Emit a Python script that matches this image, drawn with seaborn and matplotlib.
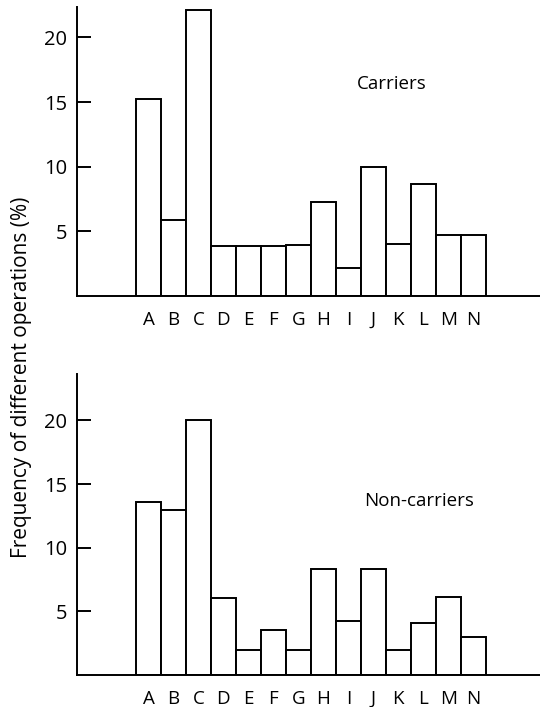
import matplotlib
matplotlib.use("Agg")
import matplotlib.pyplot as plt
import seaborn as sns
import pandas as pd

categories = ["A", "B", "C", "D", "E", "F", "G", "H", "I", "J", "K", "L", "M", "N"]
carriers = [15.25, 5.85, 22.1, 3.9, 3.85, 3.85, 3.95, 7.25, 2.2, 10.0, 4.0, 8.7, 4.75, 4.75]
non_carriers = [13.6, 13.0, 20.0, 6.05, 2.0, 3.5, 2.0, 8.35, 4.25, 8.35, 2.0, 4.05, 6.1, 2.95]
yticks = [5, 10, 15, 20]
panel_titles = ["Carriers", "Non-carriers"]
ylabel = "Frequency of different operations (%)"

sns.set_theme(style="white")
plt.rcParams["font.family"] = ["Open Sans", "DejaVu Sans"]

fig = plt.figure(figsize=(5.4, 7.07), dpi=100)
W, H = 540, 707
left_px = 77

def make_ax(bottom_px, top_px):
    return fig.add_axes([left_px / W, 1 - bottom_px / H, 1 - left_px / W, (bottom_px - top_px) / H])

ax1 = make_ax(296, 7)
ax2 = make_ax(675, 374)

panels = [
    (ax1, carriers, 22.35, (0.680, 0.733), panel_titles[0]),
    (ax2, non_carriers, 23.65, (0.739, 0.578), panel_titles[1]),
]

for ax, vals, ytop, (tx, ty), title in panels:
    df = pd.DataFrame({"cat": categories, "val": vals})
    sns.barplot(data=df, x="cat", y="val", color="white", edgecolor="black",
                linewidth=1.4, width=1.0, saturation=1, ax=ax)
    ax.set_xlim(-2.86, 15.67)
    ax.set_ylim(0, ytop)
    ax.set_yticks(yticks)
    ax.set_yticklabels([str(t) for t in yticks], fontsize=14.5)
    ax.tick_params(axis="y", direction="in", length=10, width=1.4, pad=7, left=True, colors="black")
    ax.tick_params(axis="x", length=0, pad=11, labelsize=13.5, colors="black")
    ax.set_xlabel("")
    ax.set_ylabel("")
    for s in ["top", "right"]:
        ax.spines[s].set_visible(False)
    for s in ["left", "bottom"]:
        ax.spines[s].set_color("black")
        ax.spines[s].set_linewidth(1.4)
    ax.text(tx, ty, title, transform=ax.transAxes, ha="center", va="center", fontsize=13.5, color="black")
    ax.set_facecolor("white")

fig.text(22 / W, 1 - 377 / H, ylabel, rotation=90, ha="center", va="center", fontsize=15, color="black")

fig.savefig("out.png", dpi=100, facecolor="white")
